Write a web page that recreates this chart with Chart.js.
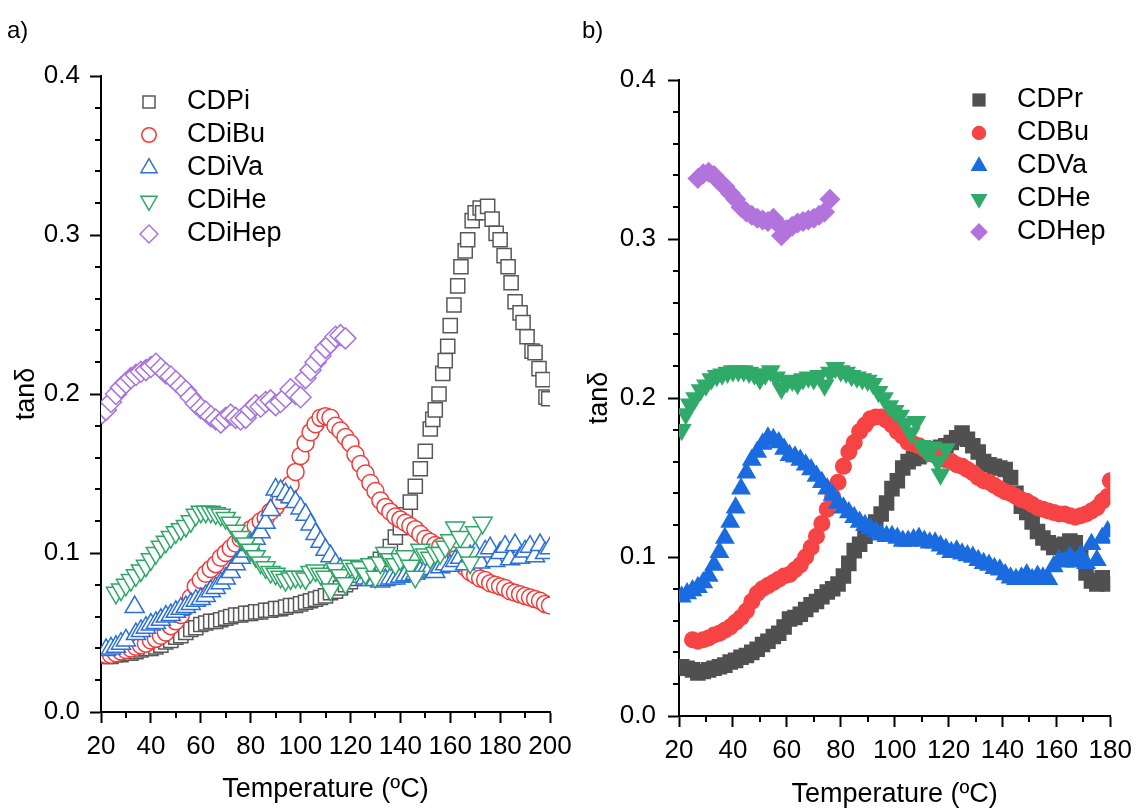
<!DOCTYPE html>
<html>
<head>
<meta charset="utf-8">
<script src="https://cdn.jsdelivr.net/npm/chart.js@4"></script>
<style>
  html, body { margin: 0; padding: 0; background: #fff; }
  #wrap { position: relative; width: 1140px; height: 809px; overflow: hidden; }
  .box { position: absolute; top: 0; height: 809px; }
  .panel { position: absolute; font: 24px "Liberation Sans", Arial, sans-serif; color: #000; }
</style>
</head>
<body>
<div id="wrap">
  <div class="box" style="left:570px;width:570px"><canvas id="chartB"></canvas></div>
  <div class="box" style="left:0;width:600px"><canvas id="chartA"></canvas></div>
  <div class="panel" style="left:7px;top:16px">a)</div>
  <div class="panel" style="left:582px;top:16px">b)</div>
</div>
<script>
// ---- panel a) : open symbols ----
const cdpiTemp = [22,24,26,28,30,32,34,36,38,40,42,44,46,48,50,52,54,56,58,60,62,64,66,68,70,72,74,76,78,80,82,84,86,88,90,92,94,96,98,100,102,104,106,108,110,112,114,116,118,120,122,124,126,128,130,132,134,136,138,140,142,144,146,148,150,152,153,154,155.5,157,158,159,160,161.5,163,164.3,166,167,168.8,170,172,173,175,176.8,178.4,180,181.6,183.2,184.4,186,188,189.2,190.8,192.8,194,195.6,197.2,198.4,199.5];
const cdpiTan = [0.035,0.035,0.036,0.036,0.037,0.037,0.038,0.039,0.040,0.040,
  0.041,0.042,0.044,0.045,0.047,0.048,0.050,0.052,0.053,0.055,
  0.056,0.057,0.057,0.058,0.059,0.060,0.061,0.061,0.062,0.062,
  0.063,0.063,0.064,0.064,0.065,0.065,0.066,0.067,0.067,0.068,
  0.069,0.070,0.071,0.072,0.073,0.075,0.076,0.078,0.080,0.082,
  0.084,0.086,0.088,0.090,0.093,0.096,0.099,0.104,0.110,0.116,
  0.124,0.132,0.142,0.153,0.164,0.178,
  0.184,0.190,0.200,0.213,0.221,0.230,0.243,0.256,0.268,0.280,0.290,0.297,0.309,0.314,0.317,0.314,0.318,
  0.310,0.301,0.297,0.287,0.280,0.270,0.258,0.251,0.245,0.236,0.227,0.226,0.216,0.209,0.198,0.197];

const cdibuTemp = [22,24,26,28,30,32,34,36,38,40,42,44,46,48,50,52,54,56,58,60,62,64,66,68,70,72,74,76,78,80,82,84,86,88,90,92,94,96,98,100,102,104,106,108,110,112,114,116,118,120,122,124,126,128,130,132,134,136,138,140,142,144,146,148,150,152,154,156,158,160,162,164,166,168,170,172,174,176,178,180,182,184,186,188,190,192,194,196,198,200];
const cdibuTan = [0.036,0.036,0.037,0.038,0.039,0.040,0.041,0.042,0.043,0.045,
  0.046,0.048,0.050,0.054,0.057,0.061,0.066,0.072,0.079,0.083,
  0.087,0.090,0.093,0.097,0.100,0.103,0.106,0.109,0.112,0.115,
  0.117,0.120,0.122,0.126,0.129,0.133,0.137,0.143,0.151,0.161,
  0.169,0.176,0.181,0.185,0.186,0.185,0.180,0.177,0.173,0.169,
  0.162,0.156,0.150,0.144,0.139,0.133,0.129,0.126,0.123,0.121,
  0.119,0.117,0.115,0.112,0.109,0.107,0.105,0.104,0.101,0.099,
  0.096,0.094,0.091,0.088,0.086,0.084,0.083,0.081,0.080,0.079,
  0.078,0.076,0.075,0.074,0.073,0.072,0.071,0.070,0.068,0.067];

const cdivaTemp = [22,24,26,28,30,33.5,34,36,38,40,42,44,46,48,50,52,54,56,58,60,62,64,66,68,70,72,74,76,78,80,82,84,86,88,90,92,94,96,98,100,102,104,106,108,110,112,114,116,118,120,122,124,126,128,130,132,134,136,138,140,142,144,146,148,150,152,154,156,158,160,162,164,166,168,170,172,174,176,178,180,182,184,186,188,190,192,194,196,198,200];
const cdivaTan = [0.039,0.040,0.041,0.043,0.045,0.066,0.049,0.051,0.053,0.055,
  0.056,0.058,0.060,0.061,0.063,0.065,0.066,0.068,0.070,0.071,
  0.073,0.076,0.078,0.081,0.084,0.088,0.093,0.097,0.101,0.105,
  0.109,0.113,0.119,0.127,0.140,0.139,0.137,0.135,0.132,0.128,
  0.124,0.118,0.112,0.107,0.102,0.098,0.093,0.090,0.088,0.087,
  0.085,0.085,0.084,0.083,0.083,0.082,0.083,0.084,0.084,0.085,
  0.086,0.086,0.087,0.088,0.089,0.090,0.088,0.091,0.093,0.092,
  0.095,0.097,0.093,0.098,0.100,0.094,0.101,0.103,0.095,0.100,
  0.104,0.096,0.105,0.097,0.101,0.104,0.098,0.105,0.100,0.103];

const cdiheTemp = [26,28,30,32,34,36,38,40,42,44,46,48,50,52,54,56,58,60,62,64,66,68,70,72,74,76,78,80,82,84,86,88,90,92,94,96,98,100,102,104,106,108,110,112,114,116,118,120,122,124,126,128,130,132,134,136,138,140,142,144,146,148,150,152,154,156,158,160,162,164,166,168,170,173];
const cdiheTan = [0.075,0.077,0.080,0.083,0.086,0.089,0.092,0.096,0.100,0.104,
  0.107,0.110,0.113,0.115,0.117,0.120,0.124,0.126,0.126,0.126,
  0.125,0.124,0.122,0.119,0.114,0.110,0.106,0.102,0.098,0.094,
  0.091,0.088,0.087,0.085,0.083,0.084,0.085,0.085,0.084,0.088,
  0.089,0.087,0.085,0.077,0.090,0.086,0.081,0.092,0.090,0.091,
  0.087,0.093,0.085,0.094,0.100,0.096,0.093,0.096,0.098,0.092,
  0.085,0.102,0.099,0.097,0.100,0.100,0.104,0.108,0.116,0.110,
  0.100,0.094,0.113,0.119];

const cdihepTemp = [20.5,22,24,26,28,30,32,34,36,38,40,42,44,46,48,50,52,54,56,58,60,62,64,66,68,70,72,74,76,78,80,82,84,86,88,90,92,94,96,98,100,102,104,106,108,110,112,114,116,118];
const cdihepTan = [0.188,0.190,0.195,0.200,0.204,0.207,0.210,0.212,0.214,0.215,
  0.217,0.219,0.216,0.213,0.211,0.208,0.205,0.202,0.198,0.194,
  0.191,0.189,0.186,0.184,0.182,0.185,0.187,0.185,0.184,0.185,
  0.190,0.193,0.192,0.195,0.196,0.193,0.195,0.198,0.203,0.200,
  0.198,0.210,0.215,0.220,0.224,0.229,0.232,0.236,0.237,0.235];

// ---- panel b) : filled symbols ----
const oddTemp = [21,23,25,27,29,31,33,35,37,39,41,43,45,47,49,51,53,55,57,59,61,63,65,67,69,71,73,75,77,79,81,83,85,87,89,91,93,95,97,99,101,103,105,107,109,111,113,115,117,119,121,123,125,127,129,131,133,135,137,139,141,143,145,147,149,151,153,155,157,159,161,163,165,167,169,171,173,175,177,179];
const cdprTan = [0.031,0.030,0.029,0.027,0.028,0.029,0.030,0.031,0.032,0.034,
  0.035,0.037,0.038,0.040,0.042,0.045,0.047,0.050,0.052,0.056,
  0.061,0.062,0.064,0.067,0.070,0.072,0.075,0.078,0.080,0.083,
  0.088,0.096,0.104,0.108,0.113,0.118,0.122,0.127,0.134,0.143,
  0.148,0.156,0.160,0.162,0.163,0.165,0.166,0.168,0.169,0.170,
  0.172,0.175,0.178,0.174,0.170,0.166,0.160,0.158,0.157,0.156,
  0.155,0.150,0.140,0.132,0.128,0.122,0.116,0.112,0.109,0.106,
  0.107,0.108,0.110,0.109,0.100,0.090,0.085,0.083,0.087,0.083];

const cdbuTemp = [25,27,29,31,33,35,37,39,41,43,45,47,49,51,53,55,57,59,61,63,65,67,69,71,73,75,77,79,81,83,85,87,89,91,93,95,97,99,101,103,105,107,109,111,113,115,117,119,121,123,125,127,129,131,133,135,137,139,141,143,145,147,149,151,153,155,157,159,161,163,165,167,169,171,173,175,177,179,180];
const cdbuTan = [0.048,0.047,0.048,0.049,0.051,0.052,0.054,0.056,0.059,0.062,
  0.066,0.072,0.077,0.080,0.082,0.084,0.086,0.088,0.089,0.092,
  0.095,0.100,0.106,0.113,0.121,0.130,0.138,0.147,0.157,0.166,
  0.172,0.179,0.183,0.187,0.188,0.188,0.186,0.183,0.179,0.176,
  0.172,0.171,0.170,0.168,0.165,0.164,0.162,0.161,0.160,0.158,
  0.157,0.155,0.153,0.150,0.148,0.147,0.145,0.143,0.141,0.140,
  0.138,0.136,0.135,0.133,0.131,0.130,0.129,0.128,0.127,0.127,
  0.126,0.125,0.126,0.127,0.129,0.131,0.135,0.138,0.148];

const cdvaTan = [0.075,0.077,0.079,0.081,0.084,0.088,0.095,0.103,0.112,0.122,
  0.131,0.143,0.153,0.161,0.166,0.171,0.175,0.174,0.172,0.168,
  0.164,0.163,0.161,0.158,0.155,0.151,0.147,0.143,0.139,0.134,
  0.131,0.128,0.125,0.122,0.120,0.118,0.116,0.114,0.113,0.113,
  0.112,0.110,0.110,0.111,0.112,0.110,0.109,0.109,0.107,0.105,
  0.103,0.104,0.102,0.101,0.100,0.098,0.096,0.095,0.093,0.092,
  0.089,0.087,0.086,0.087,0.089,0.086,0.088,0.087,0.086,0.094,
  0.098,0.097,0.100,0.097,0.101,0.096,0.108,0.098,0.112,0.116];

const cdheTemp = [21,22.5,24,26,28,30,32,34,36,38,40,42,44,46,48,50,52,54,56,58,60,62,64,66,68,70,72,74,76,78,80,82,84,86,88,90,92,94,96,98,100,102,104,106,108,110,112,114,116,117,119];
const cdheTan = [0.180,0.190,0.196,0.200,0.205,0.208,0.212,0.214,0.215,0.216,
  0.217,0.217,0.217,0.216,0.215,0.212,0.215,0.217,0.213,0.206,
  0.210,0.211,0.209,0.212,0.213,0.212,0.214,0.208,0.216,0.219,
  0.217,0.216,0.214,0.213,0.212,0.211,0.209,0.204,0.200,0.195,
  0.192,0.189,0.184,0.178,0.185,0.170,0.166,0.169,0.160,0.152,0.168];

const cdhepTemp = [27,29,31,33,35,37,39,41,43,45,47,49,51,53,55,57,58,60,62,64,66,68,70,72,74,76];
const cdhepTan = [0.338,0.341,0.342,0.340,0.336,0.333,0.329,0.325,0.320,0.317,
  0.315,0.313,0.312,0.311,0.313,0.309,0.302,0.306,0.308,0.310,
  0.311,0.312,0.313,0.315,0.317,0.325];

const fontFamily = '"Liberation Sans", Arial, sans-serif';
Chart.defaults.font.family = fontFamily;
Chart.defaults.color = '#000';

function pts(temp, tan) {
  return temp.map((t, i) => ({ x: t, y: tan[i] }));
}

function series(label, temp, tan, style, color, fill, radius, rot) {
  return {
    label: label,
    data: pts(temp, tan),
    pointStyle: style,
    pointRadius: radius,
    pointHoverRadius: radius,
    pointRotation: rot || 0,
    borderColor: color,
    backgroundColor: fill,
    borderWidth: fill === '#ffffff' ? 1.5 : 0,
    showLine: false
  };
}

// minor ticks between the labelled ones
const minorTicks = {
  id: 'minorTicks',
  afterDraw(chart) {
    const ctx = chart.ctx;
    const x = chart.scales.x, y = chart.scales.y, area = chart.chartArea;
    ctx.save();
    ctx.strokeStyle = '#000';
    ctx.lineWidth = 2;
    ctx.beginPath();
    for (let v = x.min + 10; v < x.max; v += 20) {
      const px = Math.round(x.getPixelForValue(v));
      ctx.moveTo(px, area.bottom);
      ctx.lineTo(px, area.bottom + 6);
    }
    for (let i = 1; i < 20; i++) {
      if (i % 5 === 0) continue;
      const py = Math.round(y.getPixelForValue(i * 0.02));
      ctx.moveTo(area.left, py);
      ctx.lineTo(area.left - 6, py);
    }
    ctx.stroke();
    ctx.restore();
  }
};

const insideLegend = {
  id: 'insideLegend',
  afterDraw(chart, args, opts) {
    const ctx = chart.ctx;
    chart.data.datasets.forEach((ds, i) => {
      const ly = opts.y + i * opts.dy;
      ctx.save();
      ctx.fillStyle = ds.backgroundColor;
      ctx.strokeStyle = ds.borderColor;
      ctx.lineWidth = ds.borderWidth;
      Chart.helpers.drawPoint(ctx, {
        pointStyle: ds.pointStyle,
        rotation: ds.pointRotation,
        radius: ds.pointRadius * 0.85,
        borderWidth: ds.borderWidth
      }, opts.x, ly);
      ctx.fillStyle = '#000';
      ctx.font = '27px ' + fontFamily;
      ctx.textBaseline = 'middle';
      ctx.textAlign = 'left';
      ctx.fillText(ds.label, opts.tx, ly);
      ctx.restore();
    });
  }
};

function makeOptions(xMax, pad, yWidth, xHeight, tickPadY, tickPadX, titlePadY, titlePadX, legend) {
  return {
    responsive: true,
    maintainAspectRatio: false,
    animation: false,
    devicePixelRatio: 1,
    layout: { padding: pad },
    plugins: {
      legend: { display: false },
      tooltip: { enabled: false },
      insideLegend: legend
    },
    scales: {
      x: {
        type: 'linear',
        min: 20,
        max: xMax,
        ticks: { stepSize: 20, autoSkip: false, maxRotation: 0, padding: tickPadX, font: { size: 26 }, color: '#000' },
        grid: { drawOnChartArea: false, drawTicks: true, tickLength: 11, tickWidth: 2, tickColor: '#000' },
        border: { display: true, color: '#000', width: 2 },
        title: { display: true, text: 'Temperature (ºC)', color: '#000', font: { size: 27, lineHeight: 1 }, padding: { top: 0, bottom: titlePadX } },
        afterFit: s => { s.height = xHeight; }
      },
      y: {
        type: 'linear',
        min: 0,
        max: 0.4,
        ticks: { stepSize: 0.1, padding: tickPadY, font: { size: 26 }, color: '#000', callback: v => v.toFixed(1) },
        grid: { drawOnChartArea: false, drawTicks: true, tickLength: 11, tickWidth: 2, tickColor: '#000' },
        border: { display: true, color: '#000', width: 2 },
        title: { display: true, text: 'tanδ', color: '#000', font: { size: 27, lineHeight: 1 }, padding: { top: titlePadY, bottom: 0 } },
        afterFit: s => { s.width = yWidth; }
      }
    }
  };
}

const W = '#ffffff';
// later series drawn on top, like the original plot
const setA = [
  series('CDPi', cdpiTemp, cdpiTan, 'rect', '#585858', W, 10),
  series('CDiBu', cdibuTemp, cdibuTan, 'circle', '#f23a3a', W, 8.5),
  series('CDiVa', cdivaTemp, cdivaTan, 'triangle', '#2b6fd8', W, 11),
  series('CDiHe', cdiheTemp, cdiheTan, 'triangle', '#2ea766', W, 11, 180),
  series('CDiHep', cdihepTemp, cdihepTan, 'rectRot', '#a673e0', W, 10.5)
];
setA.forEach((d, i) => { d.order = setA.length - i; });

const setB = [
  series('CDPr', oddTemp, cdprTan, 'rect', '#505050', '#505050', 11),
  series('CDBu', cdbuTemp, cdbuTan, 'circle', '#f64343', '#f64343', 8.5),
  series('CDVa', oddTemp, cdvaTan, 'triangle', '#1b6be0', '#1b6be0', 11.5),
  series('CDHe', cdheTemp, cdheTan, 'triangle', '#2faa68', '#2faa68', 11.5, 180),
  series('CDHep', cdhepTemp, cdhepTan, 'rectRot', '#b274dc', '#b274dc', 10.5)
];
setB.forEach((d, i) => { d.order = setB.length - i; });

new Chart(document.getElementById('chartA'), {
  type: 'scatter',
  data: { datasets: setA },
  options: makeOptions(200, { left: 0, top: 76, right: 50, bottom: 0 }, 101, 97, 10, 8, 13, 6,
    { x: 149, y: 102, dy: 33, tx: 187 }),
  plugins: [minorTicks, insideLegend]
});

new Chart(document.getElementById('chartB'), {
  type: 'scatter',
  data: { datasets: setB },
  options: makeOptions(180, { left: 0, top: 80, right: 26, bottom: 0 }, 109, 93, 12, 8, 16, 1,
    { x: 409, y: 100, dy: 33, tx: 447 }),
  plugins: [minorTicks, insideLegend]
});
</script>
</body>
</html>
